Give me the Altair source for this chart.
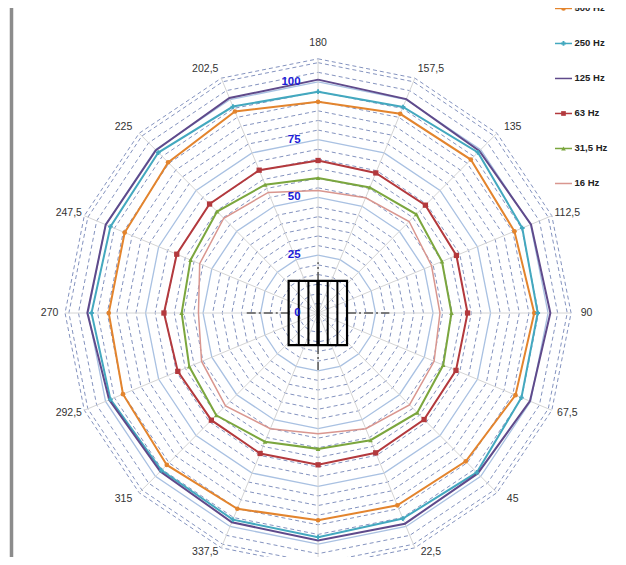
import altair as alt
import pandas as pd

# directions, in the order they run clockwise from the top
DIRS = ["180", "157,5", "135", "112,5", "90", "67,5", "45", "22,5",
        "0", "337,5", "315", "292,5", "270", "247,5", "225", "202,5"]

SERIES = ["500 Hz", "250 Hz", "125 Hz", "63 Hz", "31,5 Hz", "16 Hz"]
COLORS = ["#e3842d", "#43a8bf", "#5f4a8b", "#b3393d", "#7ba63e", "#d9968f"]
MARKERS = ["circle", "cross", None, "square", "triangle-up", None]

v500 = [91.4, 93.3, 93.9, 92.4, 94.0, 92.9, 90.8, 90.1, 89.7, 91.7, 93.0, 91.8, 91.0, 91.0, 92.2, 94.4]
v250 = [95.8, 96.5, 98.3, 96.1, 95.5, 95.7, 97.6, 96.3, 97.0, 96.8, 96.3, 97.7, 98.5, 97.7, 98.2, 96.7]
v125 = [101.0, 100.2, 99.2, 100.2, 101.0, 99.7, 98.2, 98.7, 98.5, 98.0, 97.0, 98.3, 100.3, 99.9, 99.7, 100.7]
v63 = [66.0, 65.6, 66.0, 65.1, 65.0, 64.9, 65.2, 65.5, 65.7, 65.8, 65.6, 66.0, 67.0, 66.5, 66.7, 66.9]
v31 = [58.4, 58.8, 60.4, 58.3, 58.0, 58.9, 61.0, 59.6, 58.8, 60.3, 62.6, 60.6, 59.3, 60.0, 62.1, 60.1]
v16 = [53.0, 54.0, 56.0, 53.4, 53.0, 54.6, 56.2, 54.2, 52.3, 54.2, 56.9, 54.8, 52.0, 55.7, 58.0, 56.5]
VALUES = [v500, v250, v125, v63, v31, v16]

MAJOR = [25, 50, 75, 100]
RING_LABELS = [0, 25, 50, 75, 100]
R_MAX = 110
MINOR_STEP = 25 / 6

n = len(DIRS)
XS = alt.Scale(domain=[-134.8, 130.4])
YS = alt.Scale(domain=[-105.6, 132.0])
TRIG = dict(px="datum.r * sin(datum.i * PI / 8)", py="datum.r * cos(datum.i * PI / 8)")


def xy(**kw):
    return dict(x=alt.X("px:Q", scale=XS, axis=None),
                y=alt.Y("py:Q", scale=YS, axis=None), **kw)


# series table (closed polygons)
rows = []
for s, vals in zip(SERIES, VALUES):
    for i in range(n + 1):
        rows.append({"s": s, "i": i, "r": vals[i % n]})
df = pd.DataFrame(rows)

# grid rings
minor = [k * MINOR_STEP for k in range(1, 27) if k % 6 != 0] + [R_MAX]
ring_rows = []
for kind, rs in (("minor", minor), ("major", MAJOR)):
    for r in rs:
        for i in range(n + 1):
            ring_rows.append({"kind": kind, "ring": r, "i": i, "r": r})
rings = pd.DataFrame(ring_rows)

color = alt.Color("s:N", scale=alt.Scale(domain=SERIES, range=COLORS), legend=None)

minor_layer = alt.Chart(rings).transform_filter("datum.kind == 'minor'").transform_calculate(**TRIG).mark_line(
    color="#8493bf", strokeWidth=1, strokeDash=[4, 3]
).encode(**xy(detail="ring:N", order="i:Q"))

major_layer = alt.Chart(rings).transform_filter("datum.kind == 'major'").transform_calculate(**TRIG).mark_line(
    color="#a9c1e2", strokeWidth=1.3
).encode(**xy(detail="ring:N", order="i:Q"))

spokes = pd.DataFrame({"i": list(range(n)), "r": [R_MAX] * n, "z": [0] * n})
spoke_layer = alt.Chart(spokes).transform_calculate(**TRIG).mark_rule(color="#d4d4d4", strokeWidth=1).encode(
    x=alt.X("z:Q", scale=XS, axis=None), y=alt.Y("z:Q", scale=YS, axis=None),
    x2="px:Q", y2="py:Q")

# center drawing: dash-dot cross and the cabinet box
cross = pd.DataFrame({"x1": [-31, 12.6, 0, 0], "x2": [-12.8, 31, 0, 0],
                      "y1": [0, 0, 13.9, -13.9], "y2": [0, 0, 22, -24.7]})
cross_layer = alt.Chart(cross).mark_rule(color="#555555", strokeWidth=1.5, strokeDash=[9, 3, 2, 3]).encode(
    x=alt.X("x1:Q", scale=XS, axis=None), x2="x2:Q",
    y=alt.Y("y1:Q", scale=YS, axis=None), y2="y2:Q")

box = pd.DataFrame({"x1": [-12.8], "x2": [12.6], "y1": [-13.9], "y2": [13.9]})
box_layer = alt.Chart(box).mark_rect(fillOpacity=0, stroke="#000000", strokeWidth=2.2).encode(
    x=alt.X("x1:Q", scale=XS, axis=None), x2="x2:Q",
    y=alt.Y("y1:Q", scale=YS, axis=None), y2="y2:Q")

bars = pd.DataFrame({"bx": [-8.4, -4.2, 0, 4.2, 8.4], "w": [2, 2, 3.5, 2, 2],
                     "y1": [-13.9] * 5, "y2": [13.9] * 5})
bars_layer = alt.Chart(bars).mark_rule(color="#000000").encode(
    x=alt.X("bx:Q", scale=XS, axis=None),
    y=alt.Y("y1:Q", scale=YS, axis=None), y2="y2:Q",
    strokeWidth=alt.StrokeWidth("w:Q", scale=None))

lines = []
for s, c in zip(SERIES, COLORS):
    lines.append(alt.Chart(df).transform_filter(alt.datum.s == s).transform_calculate(**TRIG).mark_line(
        color=c, strokeWidth=1.5 if s == "16 Hz" else 2
    ).encode(**xy(order="i:Q")))

points = []
for s, c, m in zip(SERIES, COLORS, MARKERS):
    if m is None:
        continue
    points.append(alt.Chart(df).transform_filter(f"datum.s == '{s}' && datum.i < {n}").transform_calculate(**TRIG).mark_point(
        shape=m, filled=True, color=c, size=28 if m == "square" else 22, opacity=1
    ).encode(**xy()))

# direction labels sit just outside the outer ring, pushed sideways like Excel does
# (the "0" one falls below the visible page, as in the original; the two
# lowest visible ones are nudged up a little so they stay on the page)
dir_df = pd.DataFrame({"lab": DIRS, "i": list(range(n))})
dir_layer = alt.Chart(dir_df).transform_filter("datum.i != 8").transform_calculate(
    sn="sin(datum.i * PI / 8)", cs="cos(datum.i * PI / 8)"
).transform_calculate(
    px="109.6 * datum.sn + (datum.sn > 0.01 ? 7.1 : datum.sn < -0.01 ? -7.1 : 0)",
    py="115.2 * datum.cs + (datum.cs > 0.01 ? -0.8 : datum.cs < -0.01 ? 0.8 : 0)"
       " + (datum.cs > 0.99 ? 2.5 : 0) + (datum.cs < -0.9 ? 2.4 : 0)"
).mark_text(
    font="Liberation Sans", fontSize=10.5, color="#333333"
).encode(**xy(text="lab:N"))

rl_df = pd.DataFrame({"lab": [str(v) for v in RING_LABELS], "py": RING_LABELS, "px": [-7.6] * len(RING_LABELS)})
rl_layer = alt.Chart(rl_df).mark_text(
    font="Liberation Sans", fontSize=11.5, fontWeight="bold", color="#1c1cd8", align="right", baseline="middle"
).encode(**xy(text="lab:N"))

# hand-made legend at the top right
leg = pd.DataFrame({"s": SERIES, "k": list(range(len(SERIES)))})
leg_base = alt.Chart(leg).transform_calculate(py="131.8 - datum.k * 15.15")
leg_line = leg_base.transform_calculate(x1="103", x2="110.4").mark_rule(strokeWidth=1.5).encode(
    x=alt.X("x1:Q", scale=XS, axis=None), x2="x2:Q",
    y=alt.Y("py:Q", scale=YS, axis=None), color=color)
leg_pts = []
for s, c, m in zip(SERIES, COLORS, MARKERS):
    if m is None:
        continue
    leg_pts.append(leg_base.transform_filter(alt.datum.s == s).transform_calculate(px="106.7").mark_point(
        shape=m, filled=True, color=c, size=22, opacity=1).encode(**xy()))
leg_text = leg_base.transform_calculate(px="111.5").mark_text(
    font="Liberation Sans", fontSize=9.5, fontWeight="bold", color="#222222", align="left", baseline="middle"
).encode(**xy(text="s:N"))

side_bar = alt.Chart(pd.DataFrame({"a": [0]})).mark_rule(color="#8c8c8c", strokeWidth=3.5).encode(
    x=alt.value(3.5), y=alt.value(-10), y2=alt.value(560))

chart = alt.layer(
    minor_layer, major_layer, spoke_layer, cross_layer, box_layer, bars_layer,
    *lines, *points, dir_layer, rl_layer, leg_line, *leg_pts, leg_text, side_bar
).properties(
    width=610, height=549, padding=0, autosize=alt.AutoSizeParams(type="none")
).configure_view(stroke=None)

chart.save("out.html", embed_options={"renderer": "svg", "actions": False})
